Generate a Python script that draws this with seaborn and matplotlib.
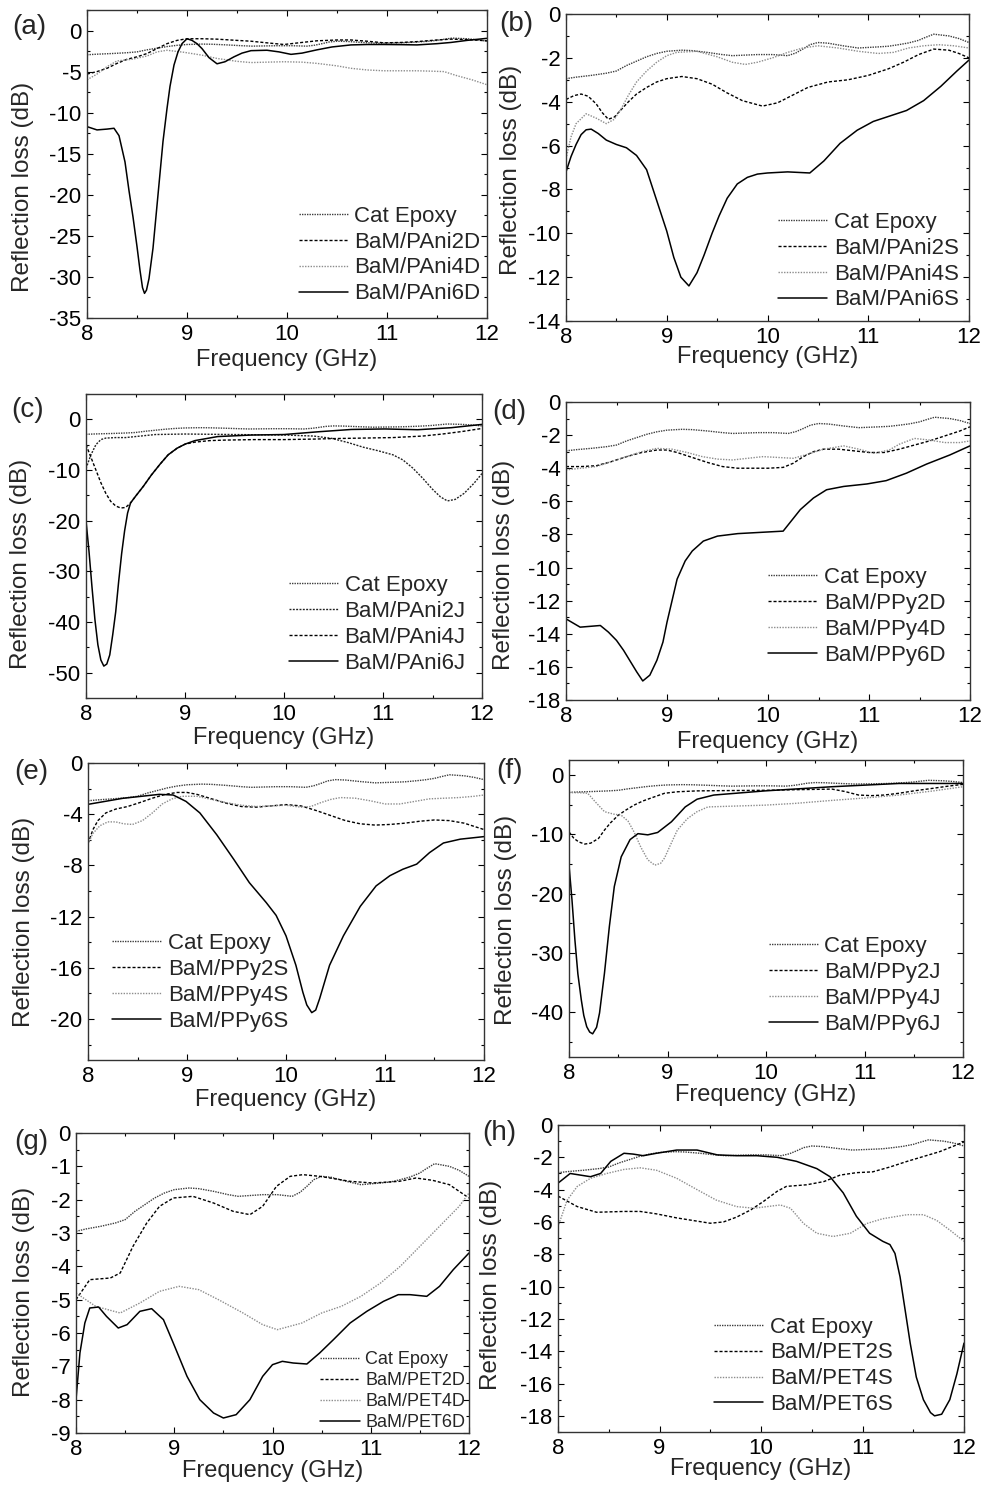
import numpy as np
import pandas as pd
import seaborn as sns
import matplotlib.pyplot as plt
from matplotlib.ticker import MultipleLocator

# ---- data (frequency in GHz, reflection loss in dB) ----
# Cat Epoxy reference curve, same in every panel
epoxy_x = [8.0, 8.1, 8.25, 8.4, 8.5, 8.6, 8.7, 8.8, 8.9, 9.0, 9.15, 9.25, 9.4, 9.55, 9.65, 9.9,
           10.05, 10.2, 10.28, 10.35, 10.42, 10.5, 10.6, 10.75, 10.9, 11.1, 11.2, 11.3, 11.4,
           11.5, 11.55, 11.65, 11.8, 11.9, 12.0]
epoxy_y = [-2.95, -2.88, -2.8, -2.7, -2.6, -2.35, -2.15, -1.95, -1.8, -1.7, -1.65, -1.67, -1.75,
           -1.85, -1.9, -1.85, -1.85, -1.9, -1.78, -1.6, -1.4, -1.3, -1.33, -1.45, -1.55, -1.5,
           -1.47, -1.4, -1.32, -1.2, -1.1, -0.92, -1.0, -1.12, -1.3]

# (a) PAni, D
a2_x = [8.0, 8.1, 8.2, 8.3, 8.4, 8.5, 8.6, 8.7, 8.8, 8.9, 9.0, 9.15, 9.3, 9.5, 9.64, 9.8, 9.97,
        10.15, 10.3, 10.5, 10.64, 10.8, 10.97, 11.15, 11.3, 11.5, 11.64, 11.8, 12.0]
a2_y = [-5.3, -5.0, -4.6, -4.0, -3.5, -3.2, -2.8, -2.2, -1.6, -1.2, -1.0, -1.0, -1.05, -1.2, -1.3,
        -1.5, -1.7, -1.45, -1.25, -1.15, -1.15, -1.3, -1.5, -1.45, -1.35, -1.15, -1.05, -1.1, -1.25]
a4_x = [8.0, 8.1, 8.2, 8.3, 8.45, 8.6, 8.7, 8.8, 8.97, 9.15, 9.3, 9.5, 9.64, 9.8, 9.97, 10.15,
        10.3, 10.5, 10.64, 10.8, 10.97, 11.15, 11.3, 11.45, 11.57, 11.7, 11.85, 12.0]
a4_y = [-6.0, -5.3, -4.4, -3.7, -3.5, -3.1, -2.6, -2.4, -2.65, -3.0, -3.4, -3.75, -3.9, -3.85,
        -3.8, -3.85, -4.0, -4.3, -4.6, -4.8, -4.9, -4.9, -4.9, -4.95, -5.0, -5.5, -6.0, -6.6]
a6_x = [8.0, 8.1, 8.2, 8.27, 8.32, 8.38, 8.42, 8.46, 8.5, 8.53, 8.555, 8.575, 8.595, 8.62, 8.66,
        8.71, 8.76, 8.8, 8.83, 8.87, 8.91, 8.95, 9.0, 9.05, 9.1, 9.15, 9.22, 9.3, 9.38, 9.47,
        9.55, 9.64, 9.8, 9.92, 10.04, 10.15, 10.3, 10.45, 10.64, 10.8, 10.97, 11.15, 11.3,
        11.5, 11.64, 11.8, 12.0]
a6_y = [-11.7, -12.1, -12.0, -11.9, -12.8, -16.0, -19.5, -22.7, -26.3, -29.2, -31.3, -32.0,
        -31.6, -30.2, -26.5, -20.0, -13.5, -9.5, -6.8, -4.2, -2.6, -1.6, -1.0, -1.2, -1.6,
        -2.2, -3.3, -4.05, -3.8, -3.2, -2.75, -2.45, -2.4, -2.6, -2.9, -2.75, -2.35, -2.0,
        -1.75, -1.7, -1.7, -1.72, -1.75, -1.6, -1.45, -1.2, -0.95]

# (b) PAni, S
b2_x = [8.0, 8.08, 8.15, 8.22, 8.3, 8.36, 8.42, 8.48, 8.55, 8.62, 8.7, 8.8, 8.9, 9.0, 9.15, 9.3,
        9.45, 9.6, 9.75, 9.95, 10.1, 10.25, 10.4, 10.6, 10.8, 11.0, 11.2, 11.35, 11.5, 11.65,
        11.8, 11.9, 12.0]
b2_y = [-3.9, -3.72, -3.65, -3.75, -4.1, -4.5, -4.8, -4.7, -4.35, -4.0, -3.65, -3.35, -3.1,
        -2.95, -2.85, -2.95, -3.2, -3.6, -3.95, -4.2, -4.05, -3.7, -3.35, -3.1, -3.0, -2.8,
        -2.5, -2.2, -1.85, -1.6, -1.65, -1.8, -2.0]
b4_x = [8.0, 8.05, 8.1, 8.2, 8.3, 8.4, 8.48, 8.55, 8.62, 8.7, 8.8, 8.9, 9.0, 9.1, 9.3, 9.5, 9.65,
        9.78, 9.9, 10.05, 10.2, 10.35, 10.5, 10.7, 10.9, 11.1, 11.25, 11.4, 11.55, 11.7, 11.85,
        12.0]
b4_y = [-6.6, -5.6, -5.0, -4.55, -4.75, -5.0, -4.8, -4.3, -3.7, -3.1, -2.6, -2.2, -1.9, -1.75,
        -1.7, -1.95, -2.2, -2.3, -2.2, -2.0, -1.75, -1.55, -1.45, -1.55, -1.7, -1.8, -1.75,
        -1.55, -1.45, -1.4, -1.45, -1.55]
b6_x = [8.0, 8.05, 8.1, 8.15, 8.2, 8.25, 8.32, 8.4, 8.5, 8.6, 8.7, 8.8, 8.9, 9.0, 9.07, 9.14,
        9.22, 9.3, 9.37, 9.45, 9.52, 9.6, 9.7, 9.8, 9.9, 10.0, 10.2, 10.42, 10.56, 10.72, 10.89,
        11.05, 11.38, 11.55, 11.72, 11.88, 12.0]
b6_y = [-7.2, -6.5, -5.95, -5.5, -5.28, -5.25, -5.45, -5.75, -5.95, -6.1, -6.45, -7.1, -8.5,
        -9.9, -11.1, -12.0, -12.4, -11.8, -11.0, -10.0, -9.2, -8.4, -7.75, -7.45, -7.3, -7.25,
        -7.2, -7.25, -6.7, -5.9, -5.3, -4.9, -4.4, -3.95, -3.3, -2.6, -2.1]

# (c) PAni, J
c2_x = [8.0, 8.05, 8.1, 8.15, 8.2, 8.3, 8.4, 8.55, 8.7, 9.0, 9.5, 10.0, 10.3, 10.48, 10.65, 10.8,
        10.95, 11.1, 11.2, 11.3, 11.4, 11.5, 11.58, 11.65, 11.73, 11.82, 11.92, 12.0]
c2_y = [-9.7, -7.0, -5.0, -4.0, -3.7, -3.6, -3.6, -3.3, -3.0, -2.9, -3.0, -3.1, -3.3, -3.75,
        -4.6, -5.5, -6.2, -7.0, -8.0, -9.6, -11.6, -13.8, -15.3, -16.1, -15.8, -14.6, -12.6,
        -10.7]
c4_x = [8.0, 8.05, 8.1, 8.15, 8.2, 8.25, 8.3, 8.35, 8.4, 8.45, 8.5, 8.58, 8.66, 8.75, 8.83,
        8.92, 9.0, 9.1, 9.25, 9.4, 9.7, 10.0, 10.3, 10.5, 10.8, 11.1, 11.4, 11.6, 11.8, 12.0]
c4_y = [-5.0, -7.5, -10.0, -12.5, -14.6, -16.2, -17.1, -17.5, -17.4, -16.5, -15.2, -13.2,
        -11.0, -8.8, -7.0, -5.7, -4.9, -4.5, -4.2, -4.1, -4.0, -4.0, -3.9, -3.8, -3.7, -3.6,
        -3.3, -2.9, -2.4, -1.8]
c6_x = [8.0, 8.03, 8.06, 8.09, 8.12, 8.15, 8.18, 8.21, 8.24, 8.27, 8.3, 8.33, 8.36, 8.39, 8.42,
        8.45, 8.5, 8.58, 8.66, 8.75, 8.83, 8.92, 9.0, 9.1, 9.33, 9.67, 10.0, 10.35, 10.68,
        11.02, 11.35, 11.69, 12.0]
c6_y = [-20.0, -26.0, -33.0, -39.5, -44.5, -47.5, -48.7, -48.3, -46.5, -42.5, -38.0, -32.0,
        -26.5, -22.0, -18.5, -16.5, -15.2, -13.2, -11.0, -8.8, -7.0, -5.7, -4.9, -4.2, -3.4,
        -3.1, -3.0, -2.45, -2.0, -1.9, -2.05, -1.65, -1.0]

# (d) PPy, D
d2_x = [8.0, 8.15, 8.3, 8.45, 8.6, 8.75, 8.9, 9.0, 9.1, 9.25, 9.4, 9.55, 9.7, 9.85, 10.0, 10.15,
        10.25, 10.35, 10.45, 10.55, 10.7, 10.85, 11.0, 11.15, 11.3, 11.45, 11.6, 11.75, 11.9,
        12.0]
d2_y = [-3.9, -3.9, -3.85, -3.6, -3.3, -3.05, -2.9, -2.9, -3.05, -3.35, -3.65, -3.9, -4.0,
        -4.0, -4.0, -3.95, -3.7, -3.3, -3.0, -2.85, -2.85, -2.95, -3.05, -3.05, -2.85, -2.6,
        -2.35, -2.05, -1.75, -1.5]
d4_x = [8.0, 8.15, 8.3, 8.45, 8.6, 8.75, 8.9, 9.05, 9.2, 9.35, 9.5, 9.65, 9.8, 9.95, 10.1, 10.25,
        10.4, 10.55, 10.75, 10.9, 11.05, 11.2, 11.3, 11.45, 11.6, 11.75, 11.9, 12.0]
d4_y = [-4.1, -4.0, -3.9, -3.6, -3.3, -3.0, -2.8, -2.85, -3.05, -3.3, -3.45, -3.5, -3.4, -3.3,
        -3.35, -3.4, -3.15, -2.85, -2.65, -2.85, -3.1, -2.9, -2.55, -2.2, -2.3, -2.45, -2.45,
        -2.35]
d6_x = [8.0, 8.14, 8.34, 8.42, 8.5, 8.57, 8.63, 8.7, 8.76, 8.83, 8.9, 8.96, 9.0, 9.05, 9.1,
        9.18, 9.25, 9.36, 9.5, 9.7, 9.85, 10.0, 10.15, 10.32, 10.45, 10.58, 10.75, 10.98, 11.17,
        11.37, 11.57, 11.8, 12.0]
d6_y = [-13.1, -13.6, -13.5, -13.9, -14.4, -15.0, -15.6, -16.3, -16.85, -16.5, -15.6, -14.5,
        -13.3, -12.0, -10.7, -9.6, -9.0, -8.4, -8.1, -7.95, -7.9, -7.85, -7.8, -6.5, -5.8, -5.3,
        -5.1, -4.95, -4.75, -4.3, -3.75, -3.2, -2.65]

# (e) PPy, S
e2_x = [8.0, 8.05, 8.1, 8.18, 8.28, 8.4, 8.52, 8.65, 8.78, 8.9, 9.0, 9.1, 9.25, 9.4, 9.55, 9.7,
        9.85, 10.0, 10.15, 10.3, 10.45, 10.6, 10.75, 10.9, 11.05, 11.2, 11.35, 11.5, 11.65,
        11.8, 11.9, 12.0]
e2_y = [-6.3, -5.2, -4.5, -3.9, -3.6, -3.4, -3.1, -2.75, -2.45, -2.3, -2.3, -2.45, -2.8, -3.15,
        -3.4, -3.45, -3.35, -3.25, -3.35, -3.7, -4.1, -4.5, -4.75, -4.85, -4.8, -4.7, -4.55,
        -4.45, -4.5, -4.7, -4.95, -5.2]
e4_x = [8.0, 8.05, 8.12, 8.2, 8.28, 8.36, 8.45, 8.55, 8.65, 8.75, 8.85, 8.95, 9.1, 9.25, 9.4,
        9.55, 9.7, 9.85, 10.0, 10.15, 10.25, 10.35, 10.45, 10.55, 10.7, 10.85, 11.0, 11.15,
        11.3, 11.45, 11.6, 11.75, 11.9, 12.0]
e4_y = [-6.3, -5.5, -4.9, -4.6, -4.6, -4.75, -4.8, -4.5, -3.9, -3.2, -2.8, -2.6, -2.6, -2.85,
        -3.1, -3.3, -3.4, -3.35, -3.3, -3.45, -3.4, -3.1, -2.85, -2.7, -2.75, -2.95, -3.2, -3.2,
        -3.0, -2.8, -2.75, -2.7, -2.6, -2.5]
e6_x = [8.0, 8.35, 8.72, 8.86, 8.99, 9.13, 9.3, 9.47, 9.63, 9.8, 9.9, 10.0, 10.1, 10.17, 10.21,
        10.26, 10.3, 10.34, 10.39, 10.44, 10.58, 10.75, 10.91, 11.05, 11.18, 11.32, 11.45,
        11.59, 11.76, 12.0]
e6_y = [-3.23, -2.76, -2.45, -2.5, -3.0, -3.9, -5.6, -7.5, -9.35, -10.9, -11.9, -13.5, -15.8,
        -17.9, -18.9, -19.5, -19.3, -18.4, -17.1, -15.8, -13.5, -11.2, -9.6, -8.8, -8.3, -7.9,
        -7.0, -6.25, -5.95, -5.75]

# (f) PPy, J
f2_x = [8.0, 8.05, 8.1, 8.16, 8.22, 8.3, 8.36, 8.42, 8.5, 8.58, 8.66, 8.75, 8.85, 8.97, 9.1,
        9.3, 9.6, 10.0, 10.3, 10.67, 10.8, 10.94, 11.07, 11.2, 11.35, 11.5, 11.68, 11.85, 12.0]
f2_y = [-9.6, -10.7, -11.3, -11.65, -11.5, -10.7, -9.3, -8.1, -6.8, -5.9, -5.1, -4.4, -3.8,
        -3.1, -2.85, -2.7, -2.65, -2.6, -2.5, -2.4, -2.8, -3.4, -3.5, -3.4, -3.1, -2.7, -2.3,
        -1.9, -1.6]
f4_x = [8.0, 8.1, 8.19, 8.27, 8.36, 8.45, 8.53, 8.6, 8.66, 8.73, 8.8, 8.87, 8.93, 8.97, 9.03,
        9.1, 9.2, 9.3, 9.41, 9.6, 9.99, 10.3, 10.67, 11.0, 11.35, 11.7, 12.0]
f4_y = [-3.0, -3.0, -3.1, -4.6, -6.2, -6.6, -6.8, -7.8, -9.6, -12.2, -14.3, -15.2, -14.9,
        -14.0, -11.8, -9.3, -7.4, -6.2, -5.4, -5.3, -5.1, -4.8, -4.3, -3.9, -3.4, -2.7, -2.0]
f6_x = [8.0, 8.03, 8.06, 8.09, 8.125, 8.15, 8.18, 8.21, 8.24, 8.28, 8.31, 8.36, 8.41, 8.46,
        8.53, 8.62, 8.7, 8.8, 8.9, 9.04, 9.18, 9.3, 9.47, 9.99, 10.67, 11.35, 12.0]
f6_y = [-15.2, -21.0, -27.8, -33.5, -37.9, -40.5, -42.4, -43.3, -43.6, -42.5, -40.1, -33.4,
        -25.5, -18.8, -13.8, -10.9, -9.9, -10.1, -9.7, -7.9, -5.4, -4.1, -3.4, -2.7, -2.0,
        -1.45, -1.45]

# (g) PET, D
g2_x = [8.0, 8.14, 8.35, 8.45, 8.58, 8.72, 8.85, 8.99, 9.19, 9.4, 9.6, 9.77, 9.9, 10.04, 10.18,
        10.31, 10.48, 10.79, 11.02, 11.29, 11.46, 11.63, 11.8, 12.0]
g2_y = [-5.0, -4.4, -4.35, -4.2, -3.4, -2.7, -2.2, -1.95, -1.9, -2.1, -2.35, -2.45, -2.2, -1.6,
        -1.3, -1.25, -1.3, -1.45, -1.5, -1.45, -1.35, -1.42, -1.55, -1.95]
g4_x = [8.0, 8.2, 8.45, 8.65, 8.85, 9.05, 9.25, 9.45, 9.7, 9.9, 10.05, 10.3, 10.5, 10.7, 10.9,
        11.1, 11.3, 11.5, 11.7, 11.9, 12.0]
g4_y = [-4.8, -5.2, -5.4, -5.1, -4.75, -4.6, -4.7, -5.0, -5.4, -5.75, -5.9, -5.7, -5.4, -5.2,
        -4.9, -4.5, -4.0, -3.4, -2.8, -2.2, -1.8]
g6_x = [8.0, 8.04, 8.09, 8.14, 8.23, 8.31, 8.43, 8.52, 8.65, 8.77, 8.89, 8.99, 9.13, 9.26, 9.4,
        9.5, 9.63, 9.77, 9.9, 10.0, 10.1, 10.21, 10.35, 10.48, 10.62, 10.79, 10.96, 11.13,
        11.28, 11.4, 11.57, 11.7, 11.84, 12.0]
g6_y = [-8.0, -6.6, -5.7, -5.25, -5.22, -5.5, -5.85, -5.75, -5.35, -5.27, -5.6, -6.3, -7.3,
        -8.0, -8.4, -8.55, -8.45, -8.0, -7.3, -6.95, -6.85, -6.9, -6.93, -6.6, -6.2, -5.7,
        -5.35, -5.05, -4.85, -4.85, -4.9, -4.6, -4.1, -3.6]

# (h) PET, S
h2_x = [8.0, 8.19, 8.38, 8.65, 8.81, 8.97, 9.17, 9.37, 9.5, 9.63, 9.76, 9.9, 10.02, 10.16, 10.25,
        10.45, 10.62, 10.78, 10.94, 11.1, 11.27, 11.44, 11.6, 11.76, 11.9, 12.0]
h2_y = [-4.4, -5.05, -5.4, -5.35, -5.35, -5.5, -5.75, -5.95, -6.08, -6.0, -5.7, -5.25, -4.75,
        -4.1, -3.8, -3.7, -3.5, -3.1, -2.95, -2.9, -2.6, -2.25, -1.95, -1.65, -1.3, -1.05]
h4_x = [8.0, 8.09, 8.19, 8.32, 8.48, 8.65, 8.81, 8.97, 9.17, 9.37, 9.56, 9.76, 9.93, 10.06,
        10.19, 10.29, 10.42, 10.55, 10.71, 10.88, 11.04, 11.2, 11.44, 11.6, 11.73, 11.86, 12.0]
h4_y = [-6.3, -4.65, -3.8, -3.3, -3.0, -2.75, -2.65, -2.8, -3.3, -4.0, -4.65, -5.05, -5.15,
        -5.05, -4.95, -5.15, -6.1, -6.7, -6.9, -6.7, -6.1, -5.8, -5.55, -5.55, -5.9, -6.5, -7.2]
h6_x = [8.0, 8.12, 8.22, 8.32, 8.42, 8.52, 8.65, 8.74, 8.84, 8.97, 9.17, 9.37, 9.57, 9.76, 9.96,
        10.16, 10.35, 10.55, 10.68, 10.81, 10.94, 11.07, 11.2, 11.27, 11.32, 11.37, 11.42,
        11.47, 11.53, 11.6, 11.67, 11.71, 11.78, 11.86, 11.93, 12.0]
h6_y = [-3.6, -3.0, -3.1, -3.2, -3.0, -2.25, -1.75, -1.8, -1.9, -1.75, -1.55, -1.55, -1.85,
        -1.9, -1.9, -2.0, -2.25, -2.7, -3.2, -4.2, -5.65, -6.7, -7.2, -7.4, -7.95, -9.4,
        -11.45, -13.5, -15.6, -17.0, -17.8, -18.0, -17.9, -17.0, -15.4, -13.5]

xticks = [8, 9, 10, 11, 12]

# ---- layout (pixel boxes measured on the original 985 x 1490 image) ----
W, H = 985, 1490

sns.set_theme(style="ticks")
plt.rcParams["font.family"] = ["Liberation Sans", "DejaVu Sans"]
plt.rcParams["axes.linewidth"] = 1.0

# one entry per series type: Cat Epoxy, 2x, 4x, 6x
line_styles = [
    dict(color="#3c3c3c", linestyle=(0, (1.0, 0.8)), linewidth=1.0),
    dict(color="black", linestyle=(0, (2.2, 1.4)), linewidth=1.0),
    dict(color="#8c8c8c", linestyle=(0, (1.0, 1.0)), linewidth=1.0),
    dict(color="black", linestyle="-", linewidth=1.1),
]
# panel (c) draws its 2J / 4J traces both in black dashes
line_styles_c = [
    line_styles[0],
    dict(color="#222222", linestyle=(0, (1.4, 1.0)), linewidth=1.0),
    dict(color="black", linestyle=(0, (2.2, 1.4)), linewidth=1.0),
    line_styles[3],
]

panels = [
    # tag, series, labels, ylim, major, minor, box (l, r, t, b), legend, ylabel(xr, yc), xlabel top, tag pos
    ("a", [(a2_x, a2_y), (a4_x, a4_y), (a6_x, a6_y)], "PAni", "D", (-35, 2.5), 5, 2.5,
     (87, 487, 10, 318), ("lower right", (0.995, 0.03), 16), (34, 187), 349, (12, 14)),
    ("b", [(b2_x, b2_y), (b4_x, b4_y), (b6_x, b6_y)], "PAni", "S", (-14, 0), 2, 1,
     (566, 969, 14, 321), ("lower right", (0.985, 0.02), 16), (522, 170), 346, (499, 11)),
    ("c", [(c2_x, c2_y), (c4_x, c4_y), (c6_x, c6_y)], "PAni", "J", (-55, 5), 10, 5,
     (86, 482, 394, 698), ("lower right", (0.97, 0.065), 16), (32, 564), 727, (11, 397)),
    ("d", [(d2_x, d2_y), (d4_x, d4_y), (d6_x, d6_y)], "PPy", "D", (-18, 0), 2, 1,
     (566, 970, 402, 700), ("lower right", (0.95, 0.10), 16), (515, 565), 731, (492, 399)),
    ("e", [(e2_x, e2_y), (e4_x, e4_y), (e6_x, e6_y)], "PPy", "S", (-23.2, 0), 4, 2,
     (88, 484, 763, 1060), ("lower left", (0.05, 0.08), 16), (35, 922), 1089, (14, 759)),
    ("f", [(f2_x, f2_y), (f4_x, f4_y), (f6_x, f6_y)], "PPy", "J", (-47.5, 2.5), 10, 5,
     (569, 963, 760, 1057), ("lower right", (0.955, 0.06), 16), (517, 920), 1084, (496, 758)),
    ("g", [(g2_x, g2_y), (g4_x, g4_y), (g6_x, g6_y)], "PET", "D", (-9, 0), 1, 0.5,
     (76, 469, 1133, 1433), ("lower right", (1.0, -0.005), 13), (35, 1292), 1460, (14, 1129)),
    ("h", [(h2_x, h2_y), (h4_x, h4_y), (h6_x, h6_y)], "PET", "S", (-19, 0), 2, 1,
     (558, 964, 1125, 1432), ("lower right", (0.835, 0.04), 16), (502, 1285), 1458, (482, 1120)),
]

fig = plt.figure(figsize=(W / 100, H / 100), dpi=100)

for tag, series, polymer, suffix, ylim, major, minor, box, leg, ylab, xlab_top, tag_pos in panels:
    l, r, t, b = box
    ax = fig.add_axes([l / W, 1 - b / H, (r - l) / W, (b - t) / H])

    curves = [(epoxy_x, epoxy_y)] + series
    labels = ["Cat Epoxy"] + [f"BaM/{polymer}{n}{suffix}" for n in (2, 4, 6)]
    styles = line_styles_c if tag == "c" else line_styles
    for (xs, ys), lab, st in zip(curves, labels, styles):
        df = pd.DataFrame({"freq": xs, "rl": ys})
        sns.lineplot(data=df, x="freq", y="rl", ax=ax, label=lab, errorbar=None, **st)

    ax.set_xlim(8, 12)
    ax.set_ylim(*ylim)
    ax.set_xticks(xticks)
    ax.set_xticklabels([str(v) for v in xticks])
    ax.yaxis.set_major_locator(MultipleLocator(major))
    ax.yaxis.set_minor_locator(MultipleLocator(minor))
    ax.xaxis.set_minor_locator(MultipleLocator(0.5))
    ax.yaxis.set_major_formatter(plt.FuncFormatter(lambda v, p: f"{v:g}"))
    ax.tick_params(which="both", direction="in", top=True, right=True, labelsize=16,
                   width=0.8, colors="black")
    ax.tick_params(which="major", length=4, pad=4)
    ax.tick_params(which="minor", length=2.5)
    for sp in ax.spines.values():
        sp.set_color("#333333")

    ax.set_xlabel("Frequency (GHz)", fontsize=17)
    ax.set_ylabel("Reflection loss (dB)", fontsize=17.5)
    ax.yaxis.set_label_coords((ylab[0] - l) / (r - l), (b - ylab[1]) / (b - t))
    ax.xaxis.set_label_coords(0.5, (b - xlab_top) / (b - t))

    loc, anchor, lfs = leg
    ax.legend(loc=loc, bbox_to_anchor=anchor, frameon=False, fontsize=lfs,
              handlelength=2.2, handletextpad=0.3, labelspacing=0.22, borderpad=0.2,
              borderaxespad=0.0)

    fig.text(tag_pos[0] / W, 1 - tag_pos[1] / H, f"({tag})", fontsize=20,
             ha="left", va="top")

fig.savefig("out.png", dpi=100)
